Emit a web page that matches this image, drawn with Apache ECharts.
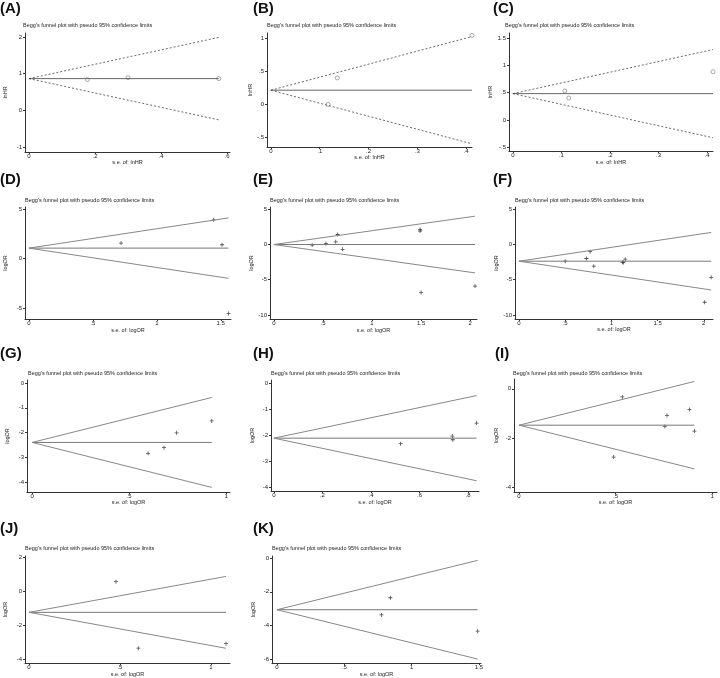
<!DOCTYPE html>
<html>
<head>
<meta charset="utf-8">
<title>Begg's funnel plots</title>
<script src="https://cdn.jsdelivr.net/npm/echarts@6.0.0/dist/echarts.min.js"></script>
<style>
  html, body { margin: 0; padding: 0; background: #fff; }
  #chart { width: 720px; height: 678px; }
</style>
</head>
<body>
<div id="chart"></div>
<script>
// --- data ---
const panelLabels = ['(A)', '(B)', '(C)', '(D)', '(E)', '(F)', '(G)', '(H)', '(I)', '(J)', '(K)'];
const yNames = ['lnHR', 'lnHR', 'lnHR', 'logOR', 'logOR', 'logOR', 'logOR', 'logOR', 'logOR', 'logOR', 'logOR'];
const xNames = ['s.e. of: lnHR', 's.e. of: lnHR', 's.e. of: lnHR', 's.e. of: logOR', 's.e. of: logOR',
  's.e. of: logOR', 's.e. of: logOR', 's.e. of: logOR', 's.e. of: logOR', 's.e. of: logOR', 's.e. of: logOR'];

// standard error (x) and estimate (y) of each study
const seA = [0.177, 0.30, 0.575];
const estA = [0.836, 0.89, 0.864];
const seB = [0.117, 0.136, 0.412];
const estB = [0.0, 0.40, 1.04];
const seC = [0.107, 0.115, 0.412];
const estC = [0.53, 0.40, 0.88];
const seD = [0.72, 1.445, 1.51, 1.56];
const estD = [1.58, 3.93, 1.41, -5.54];
const seE = [0.39, 0.53, 0.63, 0.65, 0.70, 1.49, 1.49, 1.50, 2.05];
const estE = [-0.1, 0.14, 0.37, 1.4, -0.7, 2.1, 1.9, -6.8, -5.9];
const seF = [0.50, 0.73, 0.77, 0.81, 1.12, 1.13, 1.15, 2.01, 2.08];
const estF = [-2.38, -2.0, -1.03, -3.08, -2.52, -2.55, -2.1, -8.2, -4.67];
const seG = [0.598, 0.68, 0.745, 0.926];
const estG = [-2.84, -2.61, -2.01, -1.53];
const seH = [0.522, 0.735, 0.737, 0.835];
const estH = [-2.33, -2.04, -2.18, -1.54];
const seI = [0.49, 0.535, 0.755, 0.766, 0.882, 0.908];
const estI = [-2.78, -0.33, -1.53, -1.09, -0.84, -1.72];
const seJ = [0.478, 0.601, 1.083];
const estJ = [0.58, -3.35, -3.08];
const seK = [0.776, 0.842, 1.49];
const estK = [-3.37, -2.35, -4.33];

// pooled estimate of each panel
const pooled = [0.864, 0.215, 0.48, 1.07, -0.02, -2.38, -2.40, -2.12, -1.48, -1.23, -3.06];

// tick values
const xTicks = [
  [0, 0.2, 0.4, 0.6], [0, 0.1, 0.2, 0.3, 0.4], [0, 0.1, 0.2, 0.3, 0.4],
  [0, 0.5, 1, 1.5], [0, 0.5, 1, 1.5, 2], [0, 0.5, 1, 1.5, 2],
  [0, 0.5, 1], [0, 0.2, 0.4, 0.6, 0.8], [0, 0.5, 1],
  [0, 0.5, 1], [0, 0.5, 1, 1.5]
];
const yTicks = [
  [-1, 0, 1, 2], [-0.5, 0, 0.5, 1], [-0.5, 0, 0.5, 1, 1.5],
  [-5, 0, 5], [-10, -5, 0, 5], [-10, -5, 0, 5],
  [-4, -3, -2, -1, 0], [-4, -3, -2, -1, 0], [-4, -2, 0],
  [-4, -2, 0, 2], [-6, -4, -2, 0]
];

const seList = [seA, seB, seC, seD, seE, seF, seG, seH, seI, seJ, seK];
const estList = [estA, estB, estC, estD, estE, estF, estG, estH, estI, estJ, estK];

// --- layout ---
// plot boxes [left, top, width, height]
const boxes = [
  [25, 33, 205, 119], [267, 33, 205, 114], [509, 33, 204, 118],
  [25, 207, 206, 112], [270, 207, 207, 112], [515, 207, 198, 112],
  [27, 380, 203, 112], [271, 380, 208, 111], [514, 379, 203, 113],
  [25, 556, 205, 110], [272, 556, 209, 109]
];
// axis extents [xMin, xMax, yMin, yMax]
const extents = [
  [-0.012, 0.609, -1.14, 2.11], [-0.008, 0.412, -0.64, 1.076], [-0.008, 0.412, -0.57, 1.59],
  [-0.031, 1.58, -6.1, 5.23], [-0.04, 2.07, -10.57, 5.3], [-0.043, 2.1, -10.57, 5.3],
  [-0.026, 1.02, -4.4, 0.12], [-0.012, 0.845, -4.15, 0.115], [-0.026, 1.025, -4.2, 0.4],
  [-0.022, 1.105, -4.23, 2.1], [-0.037, 1.515, -6.22, 0.12]
];
const labelPos = [[0, 1], [253, 1], [493, 1], [0, 172], [253, 172], [493, 172],
  [0, 346], [253, 346], [495, 346], [0, 521], [253, 521]];
const titlePos = [[23, 22], [267, 22], [505, 22], [25, 197], [270, 197], [515, 197],
  [28, 370], [271, 370], [513, 370], [25, 545], [272, 545]];
const xNameGap = [7, 4, 8, 8, 8, 6, 3, 8, 6, 5, 5];
const yNameGap = [17, 14, 14, 17, 15, 10, 17, 16, 15, 17, 16];

const FONT = "Arial, 'Liberation Sans', sans-serif";
const INK = '#222';

function stataNum(v) {
  const s = String(Math.round(v * 1000) / 1000);
  return s.replace(/^(-?)0\./, '$1.');
}

const chart = echarts.init(document.getElementById('chart'));

const titles = [];
const grids = [];
const xAxes = [];
const yAxes = [];
const series = [];

panelLabels.forEach((lab, i) => {
  titles.push({
    text: lab, left: labelPos[i][0], top: labelPos[i][1], padding: 0,
    textStyle: { fontFamily: FONT, fontSize: 15, fontWeight: 'bold', color: '#111' }
  });
  titles.push({
    text: "Begg's funnel plot with pseudo 95% confidence limits",
    left: titlePos[i][0], top: titlePos[i][1], padding: 0,
    textStyle: { fontFamily: FONT, fontSize: 5.5, fontWeight: 'normal', color: INK }
  });

  const b = boxes[i];
  grids.push({ left: b[0], top: b[1], width: b[2], height: b[3], containLabel: false });

  const e = extents[i];
  xAxes.push({
    type: 'value', gridIndex: i, min: e[0], max: e[1],
    name: xNames[i], nameLocation: 'middle', nameGap: xNameGap[i],
    nameTextStyle: { fontFamily: FONT, fontSize: 5.5, color: INK },
    axisLine: { show: true, onZero: false, lineStyle: { color: '#333', width: 1 } },
    axisTick: { show: true, length: 2, customValues: xTicks[i], lineStyle: { color: '#333' } },
    axisLabel: { customValues: xTicks[i], fontFamily: FONT, fontSize: 6, color: INK, margin: 1, formatter: stataNum },
    splitLine: { show: false }
  });
  yAxes.push({
    type: 'value', gridIndex: i, min: e[2], max: e[3],
    name: yNames[i], nameLocation: 'middle', nameGap: yNameGap[i],
    nameTextStyle: { fontFamily: FONT, fontSize: 5.5, color: INK },
    axisLine: { show: true, onZero: false, lineStyle: { color: '#333', width: 1 } },
    axisTick: { show: true, length: 2, customValues: yTicks[i], lineStyle: { color: '#333' } },
    axisLabel: { customValues: yTicks[i], fontFamily: FONT, fontSize: 6, color: INK, margin: 3, formatter: stataNum },
    splitLine: { show: false }
  });

  const se = seList[i];
  const est = estList[i];
  const p = pooled[i];
  const seMax = Math.max(...se);
  const hr = i < 3; // first row uses dotted limits and hollow circles
  const limitStyle = hr
    ? { color: '#444', width: 0.8, type: [2, 2] }
    : { color: '#888', width: 1 };

  series.push({
    type: 'line', xAxisIndex: i, yAxisIndex: i, symbol: 'none', silent: true,
    data: [[0, p], [seMax, p]],
    lineStyle: { color: hr ? '#666' : '#777', width: 1 }
  });
  series.push({
    type: 'line', xAxisIndex: i, yAxisIndex: i, symbol: 'none', silent: true,
    data: [[0, p], [seMax, p + 1.96 * seMax]],
    lineStyle: limitStyle
  });
  series.push({
    type: 'line', xAxisIndex: i, yAxisIndex: i, symbol: 'none', silent: true,
    data: [[0, p], [seMax, p - 1.96 * seMax]],
    lineStyle: limitStyle
  });
  series.push({
    type: 'scatter', xAxisIndex: i, yAxisIndex: i, silent: true, clip: false,
    data: se.map((s, k) => [s, est[k]]),
    symbol: hr ? 'circle' : 'path://M4,0H6V4H10V6H6V10H4V6H0V4H4Z',
    symbolSize: 4,
    itemStyle: hr
      ? { color: 'rgba(255,255,255,0)', borderColor: '#666', borderWidth: 0.7 }
      : { color: '#222' }
  });
});

chart.setOption({
  backgroundColor: '#fff',
  animation: false,
  title: titles,
  grid: grids,
  xAxis: xAxes,
  yAxis: yAxes,
  series: series
});
</script>
</body>
</html>
